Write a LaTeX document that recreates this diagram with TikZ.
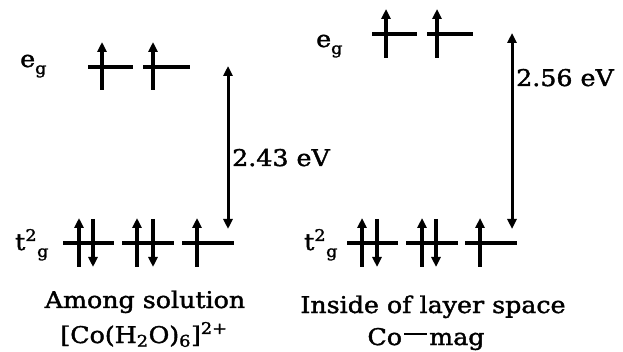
\documentclass[tikz,border=0pt]{standalone}
\usepackage{fontspec}
\setmainfont{DejaVu Serif}[RawFeature={embolden=1.6}]
\usepackage{graphicx}
\usetikzlibrary{arrows.meta}
\newcommand\wtxt[1]{\scalebox{1.1}[1]{#1}}
\newcommand\subg{\raisebox{-0.3em}{\fontsize{16}{16}\selectfont g}}
\tikzset{
  level/.style={line width=3.3pt},
  spin/.style={line width=3.3pt, -{Triangle[length=10pt,width=9pt]}},
  gaparrow/.style={line width=3pt, {Triangle[length=10pt,width=9pt]}-{Triangle[length=10pt,width=9pt]}},
  lbl/.style={inner sep=0pt, font=\fontsize{23}{27}\selectfont}
}
\begin{document}
\begin{tikzpicture}[x=1pt,y=-1pt]
\useasboundingbox (0,0) rectangle (623,352);
% ---------- left diagram ----------
\foreach \a/\b in {88/133,143/190} \draw[level] (\a,67) -- (\b,67);
\foreach \x in {102,153} \draw[spin] (\x,90) -- (\x,42);
\foreach \a/\b in {63/114,122/174,182/234} \draw[level] (\a,243) -- (\b,243);
\foreach \x in {79,137,197} \draw[spin] (\x,267) -- (\x,218);
\foreach \x in {93,153} \draw[spin] (\x,219) -- (\x,267);
\coordinate (lt) at (228,66);
\coordinate (lb) at (228,229);
\draw[gaparrow] (lt) -- (lb);
\node[lbl, anchor=base west] (egL) at (20,67) {\wtxt{e\subg}};
\node[lbl, anchor=base west] (t2gL) at (15,250) {\wtxt{t\textsuperscript{2}\subg}};
\node[lbl, anchor=base west] (gapL) at (232,166) {\wtxt{2.43 eV}};
\node[lbl, anchor=base] (capLa) at (145,308) {\wtxt{Among solution}};
\node[lbl, anchor=base] (capLb) at (144,343) {\wtxt{[Co(H\textsubscript{2}O)\textsubscript{6}]\textsuperscript{2+}}};
% ---------- right diagram ----------
\foreach \a/\b in {372/417,427/473} \draw[level] (\a,34) -- (\b,34);
\foreach \x in {386,437} \draw[spin] (\x,58) -- (\x,9);
\foreach \a/\b in {347/398,406/458,465/517} \draw[level] (\a,243) -- (\b,243);
\foreach \x in {362,422,480} \draw[spin] (\x,267) -- (\x,218);
\foreach \x in {377,436} \draw[spin] (\x,219) -- (\x,267);
\coordinate (rt) at (512,33);
\coordinate (rb) at (512,229);
\draw[gaparrow] (rt) -- (rb);
\node[lbl, anchor=base west] (egR) at (316,47) {\wtxt{e\subg}};
\node[lbl, anchor=base west] (t2gR) at (304,250) {\wtxt{t\textsuperscript{2}\subg}};
\node[lbl, anchor=base west] (gapR) at (516,86) {\wtxt{2.56 eV}};
\node[lbl, anchor=base] (capRa) at (433,313) {\wtxt{Inside of layer space}};
\node[lbl, anchor=base] (capRb) at (426,345) {\wtxt{Co\kern2pt\rule[0.45em]{0.9em}{0.09em}\kern2pt mag}};
\end{tikzpicture}
\end{document}
